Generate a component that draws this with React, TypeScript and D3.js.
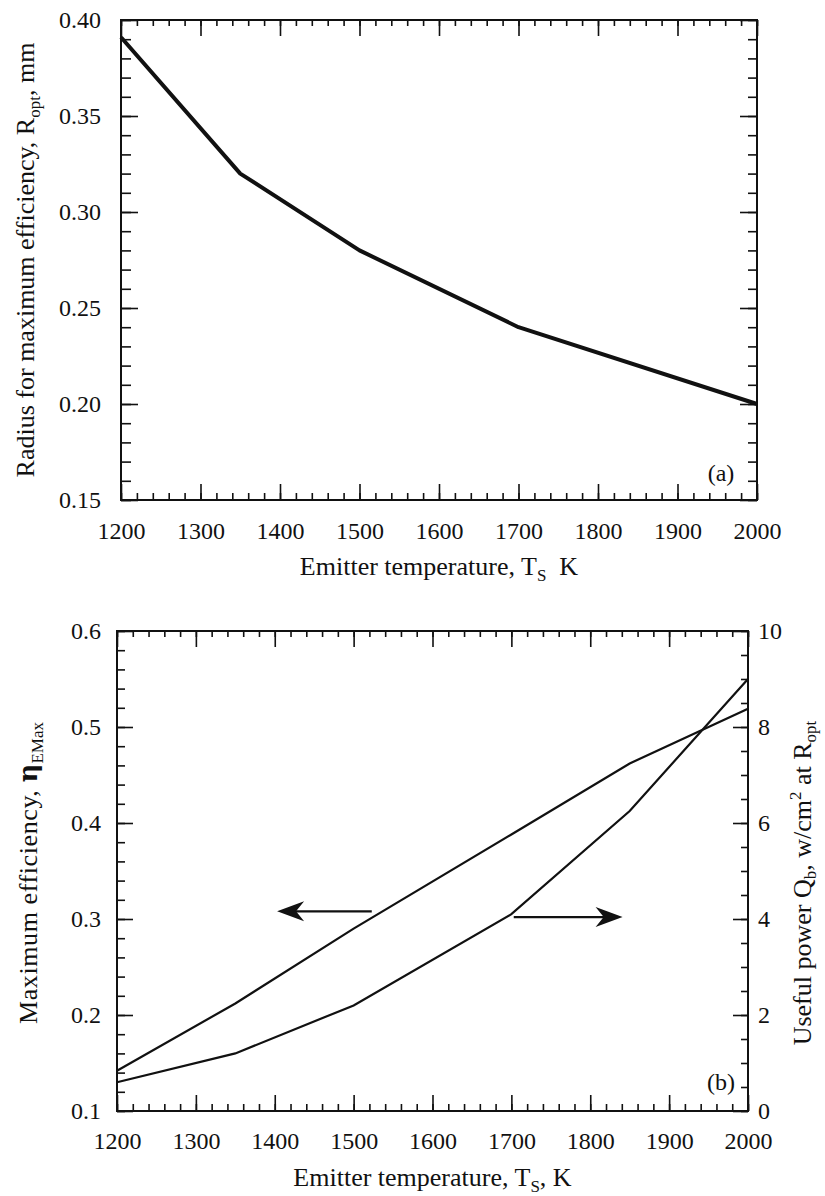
import { useEffect, useRef } from 'react';
import * as d3 from 'd3';

// panel (a): radius for maximum efficiency vs emitter temperature
const radiusTemps = [1200, 1350, 1500, 1700, 2000];
const radiusValues = [0.391, 0.32, 0.28, 0.24, 0.2];

// panel (b): maximum efficiency (left axis) and useful power (right axis)
const effTemps = [1200, 1350, 1500, 1700, 1850, 2000];
const effValues = [0.142, 0.212, 0.29, 0.388, 0.462, 0.519];
const powerTemps = [1200, 1350, 1500, 1700, 1850, 2000];
const powerValues = [0.6, 1.2, 2.2, 4.1, 6.25, 9.0];

// tick labels
const tempTicks = [1200, 1300, 1400, 1500, 1600, 1700, 1800, 1900, 2000];
const tempMinor = d3.range(1200, 2001, 20);
const radiusTicks = [0.15, 0.2, 0.25, 0.3, 0.35, 0.4];
const radiusMinor = d3.range(0.15, 0.4001, 0.01);
const effTicks = [0.1, 0.2, 0.3, 0.4, 0.5, 0.6];
const effMinor = d3.range(0.1, 0.6001, 0.02);
const powerTicks = [0, 2, 4, 6, 8, 10];
const powerMinor = d3.range(0, 10.001, 0.5);

// arrow annotations, in data units
const effArrow = { from: 1523, to: 1403, at: 0.308 };
const powerArrow = { from: 1703, to: 1841, at: 4.04 };

const FONT = "'Liberation Serif', 'Times New Roman', serif";
const INK = '#111';

export default function App() {
  const svgRef = useRef<SVGSVGElement>(null);

  useEffect(() => {
    if (!svgRef.current) return;
    const svg = d3.select(svgRef.current);
    svg.selectAll('*').remove();

    const addAxis = (transform: string, axis: any) => {
      const g = svg.append('g').attr('transform', transform).call(axis);
      g.attr('font-family', FONT).attr('font-size', 24);
      g.select('.domain').remove();
      g.selectAll('line').attr('stroke', INK).attr('stroke-width', 1.6);
      g.selectAll('text')
        .style('font-family', FONT)
        .style('font-size', '24px')
        .attr('fill', INK);
      return g;
    };
    const blank = () => '';

    const label = (x: number, y: number, rotate: boolean, size = 26) =>
      svg.append('text')
        .attr('transform', `translate(${x},${y})${rotate ? ' rotate(-90)' : ''}`)
        .attr('text-anchor', 'middle')
        .style('font-family', FONT)
        .style('font-size', `${size}px`)
        .attr('fill', INK);
    const sub = (t: any, s: string, dy = 6) => t.append('tspan').style('font-size', '17px').attr('dy', dy).text(s);

    // ---------- panel (a) ----------
    const a = { left: 121, right: 757, top: 20, bottom: 500 };
    const xa = d3.scaleLinear().domain([1200, 2000]).range([a.left, a.right]);
    const ya = d3.scaleLinear().domain([0.15, 0.4]).range([a.bottom, a.top]);

    addAxis(`translate(0,${a.bottom})`, d3.axisBottom(xa).tickValues(tempMinor).tickSize(-7).tickFormat(blank));
    addAxis(
      `translate(0,${a.bottom})`,
      d3.axisBottom(xa).tickValues(tempTicks).tickSize(-16).tickPadding(22).tickFormat(d3.format('d'))
    );
    addAxis(`translate(0,${a.top})`, d3.axisTop(xa).tickValues(tempMinor).tickSize(-6).tickFormat(blank));
    addAxis(`translate(0,${a.top})`, d3.axisTop(xa).tickValues(tempTicks).tickSize(-16).tickFormat(blank));
    addAxis(`translate(${a.left},0)`, d3.axisLeft(ya).tickValues(radiusMinor).tickSize(-10).tickFormat(blank));
    addAxis(
      `translate(${a.left},0)`,
      d3.axisLeft(ya).tickValues(radiusTicks).tickSize(-17).tickPadding(20).tickFormat(d3.format('.2f'))
    );
    addAxis(`translate(${a.right},0)`, d3.axisRight(ya).tickValues(radiusMinor).tickSize(-9).tickFormat(blank));
    addAxis(`translate(${a.right},0)`, d3.axisRight(ya).tickValues(radiusTicks).tickSize(-17).tickFormat(blank));

    svg.append('rect')
      .attr('x', a.left)
      .attr('y', a.top)
      .attr('width', a.right - a.left)
      .attr('height', a.bottom - a.top)
      .attr('fill', 'none')
      .attr('stroke', INK)
      .attr('stroke-width', 2);

    const lineA = d3
      .line<number>()
      .x((d, i) => xa(radiusTemps[i]))
      .y((d) => ya(d));
    svg.append('path')
      .attr('d', lineA(radiusValues))
      .attr('fill', 'none')
      .attr('stroke', INK)
      .attr('stroke-width', 4)
      .attr('stroke-linejoin', 'round');

    label(721, 481, false, 24).text('(a)');

    const titleA = label((a.left + a.right) / 2, 575, false);
    titleA.append('tspan').text('Emitter temperature, T');
    sub(titleA, 'S');
    titleA.append('tspan').attr('dy', -6).text('\u00a0 K');

    const ylabA = label(34, 260, true);
    ylabA.append('tspan').text('Radius for maximum efficiency, R');
    sub(ylabA, 'opt');
    ylabA.append('tspan').attr('dy', -6).text(', mm');

    // ---------- panel (b) ----------
    const b = { left: 117, right: 748, top: 631, bottom: 1111 };
    const xb = d3.scaleLinear().domain([1200, 2000]).range([b.left, b.right]);
    const yb = d3.scaleLinear().domain([0.1, 0.6]).range([b.bottom, b.top]);
    const yp = d3.scaleLinear().domain([0, 10]).range([b.bottom, b.top]);

    addAxis(`translate(0,${b.bottom})`, d3.axisBottom(xb).tickValues(tempMinor).tickSize(-7).tickFormat(blank));
    addAxis(
      `translate(0,${b.bottom})`,
      d3.axisBottom(xb).tickValues(tempTicks).tickSize(-16).tickPadding(21).tickFormat(d3.format('d'))
    );
    addAxis(`translate(0,${b.top})`, d3.axisTop(xb).tickValues(tempMinor).tickSize(-6).tickFormat(blank));
    addAxis(`translate(0,${b.top})`, d3.axisTop(xb).tickValues(tempTicks).tickSize(-16).tickFormat(blank));
    addAxis(`translate(${b.left},0)`, d3.axisLeft(yb).tickValues(effMinor).tickSize(-8).tickFormat(blank));
    addAxis(
      `translate(${b.left},0)`,
      d3.axisLeft(yb).tickValues(effTicks).tickSize(-16).tickPadding(16).tickFormat(d3.format('.1f'))
    );
    addAxis(`translate(${b.right},0)`, d3.axisRight(yp).tickValues(powerMinor).tickSize(-7).tickFormat(blank));
    addAxis(
      `translate(${b.right},0)`,
      d3.axisRight(yp).tickValues(powerTicks).tickSize(-15).tickPadding(10).tickFormat(d3.format('d'))
    );

    svg.append('rect')
      .attr('x', b.left)
      .attr('y', b.top)
      .attr('width', b.right - b.left)
      .attr('height', b.bottom - b.top)
      .attr('fill', 'none')
      .attr('stroke', INK)
      .attr('stroke-width', 2);

    const lineEff = d3
      .line<number>()
      .x((d, i) => xb(effTemps[i]))
      .y((d) => yb(d));
    const linePow = d3
      .line<number>()
      .x((d, i) => xb(powerTemps[i]))
      .y((d) => yp(d));
    svg.append('path')
      .attr('d', lineEff(effValues))
      .attr('fill', 'none')
      .attr('stroke', INK)
      .attr('stroke-width', 2.2);
    svg.append('path')
      .attr('d', linePow(powerValues))
      .attr('fill', 'none')
      .attr('stroke', INK)
      .attr('stroke-width', 2.2);

    // arrows
    const arrow = (x1: number, x2: number, y: number) => {
      const dir = Math.sign(x2 - x1);
      const len = 27;
      const half = 10;
      svg.append('line')
        .attr('x1', x1)
        .attr('x2', x2 - dir * len * 0.6)
        .attr('y1', y)
        .attr('y2', y)
        .attr('stroke', INK)
        .attr('stroke-width', 2.2);
      svg.append('path')
        .attr(
          'd',
          `M${x2},${y} L${x2 - dir * len},${y - half} L${x2 - dir * len * 0.7},${y} L${x2 - dir * len},${y + half} Z`
        )
        .attr('fill', INK);
    };
    arrow(xb(effArrow.from), xb(effArrow.to), yb(effArrow.at));
    arrow(xb(powerArrow.from), xb(powerArrow.to), yp(powerArrow.at));

    label(721, 1090, false, 24).text('(b)');

    const titleB = label((b.left + b.right) / 2, 1186, false);
    titleB.append('tspan').text('Emitter temperature, T');
    sub(titleB, 'S');
    titleB.append('tspan').attr('dy', -6).text(', K');

    const ylabB = label(37, 873, true);
    ylabB.append('tspan').attr('letter-spacing', 0.6).text('Maximum efficiency, ');
    ylabB.append('tspan').style('font-weight', 'bold').style('font-family', "'DejaVu Serif', serif").text('η');
    sub(ylabB, 'EMax');

    const ylabP = label(811, 883, true);
    ylabP.append('tspan').text('Useful power Q');
    sub(ylabP, 'b', 5);
    ylabP.append('tspan').attr('dy', -5).text(', w/cm');
    sub(ylabP, '2', -10);
    ylabP.append('tspan').attr('dy', 10).text(' at R');
    sub(ylabP, 'opt', 5);
  }, []);

  return (
    <svg
      ref={svgRef}
      width={825}
      height={1196}
      style={{ position: 'absolute', left: 0, top: 0, background: '#fff' }}
    />
  );
}
